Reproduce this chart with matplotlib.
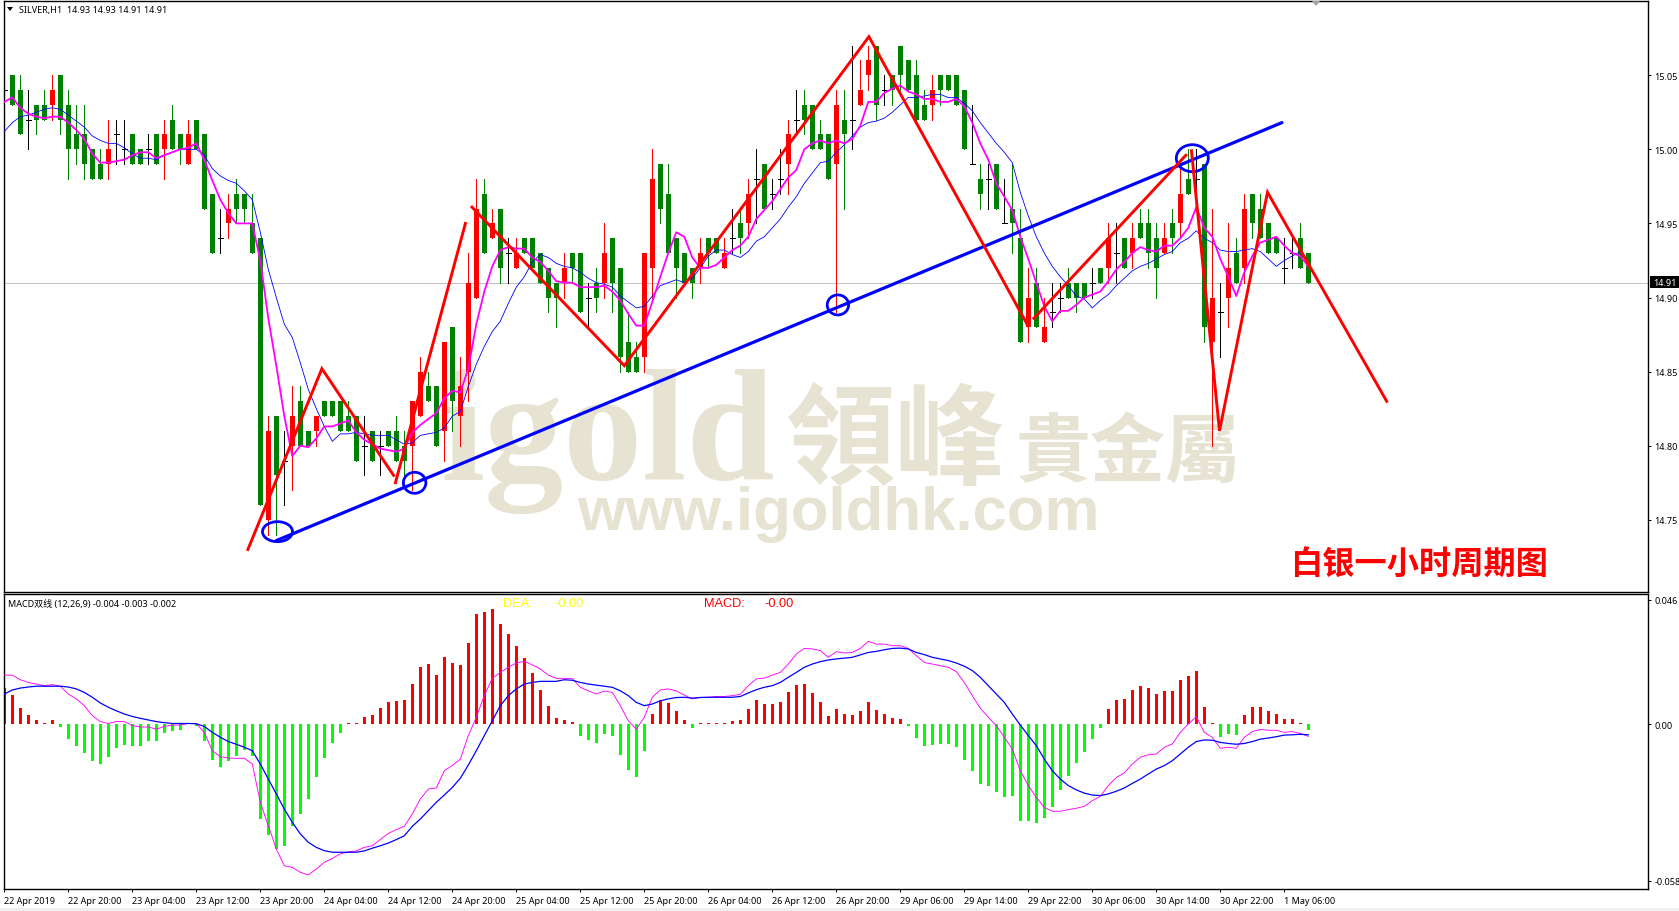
import numpy as np
import matplotlib
matplotlib.use('Agg')
import matplotlib.pyplot as plt
from matplotlib.patches import Ellipse, Rectangle, Polygon

plt.rcParams['font.family'] = ['Noto Sans', 'Noto Sans CJK SC']

# candles (bar by bar, SILVER H1)
opens = [15.04, 15.05, 15.04, 15.02, 15.03, 15.03, 15.03, 15.05, 15.03, 15.01,
         15.01, 15.00, 14.99, 14.99, 15.01, 15.00, 15.01, 15.00, 15.00, 15.01,
         15.00, 15.02, 15.01, 14.99, 15.02, 15.01, 14.97, 14.94, 14.95, 14.97,
         14.97, 14.95, 14.94, 14.75, 14.82, 14.79, 14.80, 14.83, 14.81, 14.81,
         14.83, 14.83, 14.83, 14.82, 14.82, 14.80, 14.81, 14.80, 14.81, 14.81,
         14.80, 14.80, 14.82, 14.84, 14.84, 14.81, 14.88, 14.82, 14.85, 14.90,
         14.97, 14.94, 14.96, 14.93, 14.92, 14.94, 14.94, 14.93, 14.92, 14.91,
         14.91, 14.93, 14.93, 14.90, 14.91, 14.91, 14.94, 14.92, 14.87, 14.86,
         14.86, 14.92, 14.99, 14.97, 14.94, 14.93, 14.92, 14.92, 14.94, 14.94,
         14.92, 14.94, 14.95, 14.95, 14.98, 14.99, 14.97, 14.98, 14.99, 15.02,
         15.03, 15.03, 15.01, 15.01, 14.99, 15.02, 15.02, 15.03, 15.05, 15.07,
         15.04, 15.05, 15.07, 15.06, 15.05, 15.03, 15.03, 15.05, 15.05, 15.05,
         15.04, 14.99, 14.98, 14.98, 14.99, 14.95, 14.96, 14.94, 14.88, 14.91,
         14.87, 14.89, 14.90, 14.91, 14.91, 14.91, 14.91, 14.92, 14.92, 14.93,
         14.94, 14.93, 14.95, 14.95, 14.94, 14.93, 14.95, 14.95, 14.98, 14.98,
         14.99, 14.87, 14.89, 14.90, 14.93, 14.92, 14.97, 14.96, 14.95, 14.94,
         14.92, 14.93, 14.94, 14.93]
highs = [15.05, 15.05, 15.05, 15.04, 15.03, 15.04, 15.05, 15.05, 15.04, 15.03,
         15.03, 15.00, 15.00, 15.02, 15.02, 15.02, 15.01, 15.00, 15.01, 15.01,
         15.02, 15.03, 15.01, 15.02, 15.02, 15.01, 14.97, 14.96, 14.97, 14.98,
         14.97, 14.97, 14.94, 14.82, 14.82, 14.81, 14.84, 14.84, 14.81, 14.82,
         14.83, 14.83, 14.83, 14.83, 14.82, 14.82, 14.81, 14.81, 14.81, 14.82,
         14.81, 14.83, 14.86, 14.85, 14.84, 14.87, 14.88, 14.86, 14.93, 14.98,
         14.98, 14.96, 14.96, 14.94, 14.94, 14.94, 14.94, 14.93, 14.92, 14.91,
         14.93, 14.93, 14.93, 14.91, 14.92, 14.95, 14.94, 14.92, 14.89, 14.87,
         14.93, 15.00, 14.99, 14.99, 14.94, 14.93, 14.92, 14.94, 14.94, 14.94,
         14.94, 14.96, 14.96, 14.98, 15.00, 14.99, 14.98, 15.00, 15.02, 15.04,
         15.04, 15.03, 15.02, 15.01, 15.04, 15.04, 15.07, 15.06, 15.07, 15.07,
         15.05, 15.05, 15.07, 15.06, 15.06, 15.04, 15.05, 15.05, 15.05, 15.05,
         15.04, 15.03, 14.99, 14.99, 14.99, 14.98, 14.99, 14.96, 14.92, 14.92,
         14.90, 14.91, 14.91, 14.92, 14.91, 14.91, 14.92, 14.92, 14.95, 14.95,
         14.94, 14.95, 14.96, 14.96, 14.95, 14.95, 14.96, 14.99, 15.00, 15.00,
         14.99, 14.96, 14.91, 14.95, 14.94, 14.97, 14.97, 14.97, 14.95, 14.94,
         14.94, 14.94, 14.95, 14.93]
lows = [15.03, 15.03, 15.01, 15.00, 15.01, 15.02, 15.02, 15.01, 14.98, 14.99,
        14.98, 14.98, 14.98, 14.98, 14.99, 14.99, 14.99, 14.99, 14.99, 14.99,
        14.98, 15.00, 14.99, 14.99, 15.00, 14.96, 14.93, 14.93, 14.94, 14.95,
        14.95, 14.93, 14.76, 14.74, 14.74, 14.76, 14.77, 14.80, 14.80, 14.80,
        14.82, 14.82, 14.81, 14.81, 14.79, 14.78, 14.79, 14.78, 14.80, 14.79,
        14.78, 14.77, 14.82, 14.83, 14.80, 14.79, 14.81, 14.80, 14.83, 14.90,
        14.93, 14.94, 14.91, 14.91, 14.92, 14.93, 14.92, 14.91, 14.89, 14.88,
        14.90, 14.91, 14.89, 14.88, 14.89, 14.90, 14.89, 14.85, 14.85, 14.85,
        14.85, 14.90, 14.95, 14.93, 14.90, 14.91, 14.90, 14.91, 14.92, 14.93,
        14.92, 14.93, 14.93, 14.94, 14.95, 14.96, 14.96, 14.97, 14.97, 15.01,
        15.01, 15.00, 15.00, 14.98, 14.89, 14.96, 15.00, 15.03, 15.04, 15.02,
        15.03, 15.03, 15.04, 15.04, 15.02, 15.02, 15.02, 15.03, 15.04, 15.03,
        15.00, 14.99, 14.96, 14.96, 14.96, 14.95, 14.93, 14.87, 14.87, 14.88,
        14.87, 14.88, 14.89, 14.90, 14.89, 14.90, 14.90, 14.91, 14.91, 14.91,
        14.92, 14.92, 14.94, 14.92, 14.90, 14.93, 14.93, 14.94, 14.97, 14.96,
        14.87, 14.80, 14.86, 14.88, 14.91, 14.91, 14.94, 14.94, 14.93, 14.93,
        14.91, 14.92, 14.92, 14.91]
closes = [15.04, 15.03, 15.01, 15.02, 15.02, 15.02, 15.04, 15.02, 15.00, 15.00,
          14.99, 14.98, 14.98, 15.00, 15.01, 15.00, 14.99, 14.99, 15.00, 14.99,
          15.01, 15.00, 15.00, 15.01, 15.00, 14.96, 14.93, 14.94, 14.96, 14.96,
          14.96, 14.93, 14.76, 14.81, 14.78, 14.79, 14.82, 14.80, 14.80, 14.82,
          14.82, 14.82, 14.81, 14.81, 14.79, 14.80, 14.79, 14.80, 14.80, 14.79,
          14.79, 14.83, 14.85, 14.83, 14.80, 14.87, 14.83, 14.84, 14.91, 14.96,
          14.93, 14.95, 14.92, 14.93, 14.93, 14.93, 14.92, 14.91, 14.90, 14.90,
          14.92, 14.92, 14.89, 14.90, 14.90, 14.93, 14.91, 14.86, 14.85, 14.85,
          14.93, 14.98, 14.96, 14.93, 14.92, 14.91, 14.91, 14.93, 14.93, 14.93,
          14.93, 14.94, 14.94, 14.97, 14.98, 14.96, 14.97, 14.98, 15.01, 15.02,
          15.02, 15.00, 15.00, 14.98, 15.03, 15.01, 15.02, 15.04, 15.06, 15.03,
          15.04, 15.04, 15.05, 15.04, 15.02, 15.02, 15.04, 15.04, 15.04, 15.03,
          15.00, 14.99, 14.97, 14.98, 14.96, 14.95, 14.95, 14.87, 14.90, 14.88,
          14.88, 14.89, 14.90, 14.90, 14.90, 14.90, 14.91, 14.91, 14.94, 14.93,
          14.92, 14.94, 14.94, 14.93, 14.92, 14.94, 14.94, 14.97, 14.97, 14.98,
          14.88, 14.90, 14.89, 14.92, 14.91, 14.96, 14.95, 14.94, 14.93, 14.93,
          14.92, 14.93, 14.92, 14.91]

# moving averages on the price window
ma_fast = [15.032, 15.035, 15.028, 15.024, 15.022, 15.021, 15.022, 15.022, 15.018, 15.013,
           15.007, 14.997, 14.991, 14.991, 14.992, 14.993, 14.996, 14.998, 14.998, 14.994,
           14.996, 14.998, 15.000, 15.001, 15.004, 14.993, 14.979, 14.966, 14.957, 14.950,
           14.950, 14.950, 14.925, 14.886, 14.854, 14.820, 14.793, 14.800, 14.799, 14.805,
           14.813, 14.813, 14.815, 14.817, 14.809, 14.804, 14.801, 14.798, 14.797, 14.796,
           14.798, 14.809, 14.814, 14.818, 14.822, 14.832, 14.837, 14.836, 14.852, 14.882,
           14.904, 14.921, 14.932, 14.934, 14.933, 14.933, 14.927, 14.924, 14.918, 14.911,
           14.910, 14.910, 14.907, 14.907, 14.907, 14.908, 14.904, 14.898, 14.889, 14.881,
           14.881, 14.897, 14.914, 14.930, 14.944, 14.941, 14.927, 14.920, 14.920, 14.922,
           14.927, 14.932, 14.935, 14.941, 14.953, 14.959, 14.965, 14.973, 14.981, 14.986,
           15.000, 15.004, 15.006, 15.004, 15.006, 15.004, 15.007, 15.016, 15.032, 15.032,
           15.038, 15.041, 15.043, 15.039, 15.037, 15.034, 15.034, 15.032, 15.032, 15.034,
           15.029, 15.018, 15.004, 14.993, 14.977, 14.968, 14.959, 14.941, 14.926, 14.910,
           14.894, 14.884, 14.891, 14.891, 14.895, 14.900, 14.902, 14.904, 14.911, 14.919,
           14.924, 14.930, 14.934, 14.932, 14.931, 14.935, 14.935, 14.940, 14.947, 14.961,
           14.947, 14.941, 14.926, 14.914, 14.901, 14.917, 14.928, 14.937, 14.939, 14.941,
           14.935, 14.930, 14.928, 14.921]
ma_slow = [15.012, 15.018, 15.022, 15.023, 15.025, 15.027, 15.028, 15.027, 15.023, 15.019,
           15.015, 15.009, 15.006, 15.004, 15.004, 15.001, 14.997, 14.994, 14.994, 14.993,
           14.996, 14.998, 15.000, 15.000, 15.000, 14.996, 14.987, 14.982, 14.979, 14.977,
           14.972, 14.966, 14.944, 14.919, 14.900, 14.882, 14.873, 14.856, 14.838, 14.825,
           14.813, 14.803, 14.808, 14.808, 14.809, 14.808, 14.807, 14.807, 14.807, 14.804,
           14.801, 14.802, 14.807, 14.808, 14.809, 14.812, 14.820, 14.823, 14.840, 14.855,
           14.867, 14.877, 14.884, 14.896, 14.907, 14.914, 14.924, 14.929, 14.927, 14.923,
           14.921, 14.920, 14.917, 14.913, 14.910, 14.909, 14.907, 14.901, 14.897, 14.893,
           14.894, 14.901, 14.908, 14.910, 14.912, 14.910, 14.913, 14.920, 14.928, 14.932,
           14.932, 14.929, 14.927, 14.931, 14.938, 14.941, 14.947, 14.953, 14.961, 14.968,
           14.977, 14.984, 14.991, 14.992, 14.998, 15.003, 15.009, 15.015, 15.018, 15.019,
           15.021, 15.025, 15.030, 15.035, 15.035, 15.036, 15.037, 15.037, 15.035, 15.035,
           15.031, 15.026, 15.018, 15.011, 15.004, 14.998, 14.991, 14.971, 14.955, 14.941,
           14.930, 14.921, 14.914, 14.908, 14.901, 14.899, 14.893, 14.898, 14.902, 14.908,
           14.913, 14.918, 14.921, 14.923, 14.926, 14.929, 14.931, 14.937, 14.940, 14.945,
           14.940, 14.937, 14.932, 14.931, 14.931, 14.932, 14.933, 14.931, 14.926, 14.921,
           14.925, 14.928, 14.931, 14.923]

# MACD window, values in thousandths
macd_hist = [13.3, 10.7, 5.9, 3.3, 1.5, 0.2, 1.5, -1.1, -5.6, -8.1,
             -10.7, -13.7, -14.8, -12.2, -8.9, -7.8, -8.1, -8.1, -6.3, -6.3,
             -3.3, -2.6, -2.2, 0.2, -0.9, -6.3, -13.3, -15.9, -13.7, -11.9,
             -9.6, -11.9, -35.2, -41.1, -46.3, -45.2, -37.8, -33.3, -27.8, -19.6,
             -12.6, -7.0, -3.3, 0.2, 0.2, 2.6, 3.3, 5.9, 8.1, 8.5,
             8.9, 14.8, 21.1, 22.2, 18.1, 24.9, 22.7, 21.9, 30.0, 40.7,
             41.5, 42.6, 37.0, 33.3, 28.9, 24.4, 18.9, 12.6, 6.7, 2.2,
             1.5, 0.7, -4.4, -5.9, -7.0, -3.7, -4.4, -11.5, -17.0, -19.6,
             -10.0, 3.7, 8.9, 7.8, 4.8, 1.5, -1.5, 0.2, 0.2, 0.2,
             0.2, 1.1, 1.5, 5.6, 8.9, 7.4, 7.4, 8.1, 11.9, 14.4,
             14.8, 11.5, 8.1, 3.0, 5.6, 3.7, 3.3, 4.8, 8.1, 5.2,
             3.7, 2.2, 1.9, -0.7, -5.2, -8.1, -7.8, -7.4, -7.4, -8.5,
             -13.3, -17.4, -22.2, -23.0, -25.2, -27.0, -26.7, -35.9, -35.9, -36.7,
             -34.8, -30.7, -24.4, -19.3, -14.4, -10.4, -5.6, -1.5, 5.6, 8.9,
             9.3, 12.6, 14.1, 13.3, 11.1, 12.2, 12.2, 16.3, 17.8, 19.6,
             6.3, 0.4, -4.8, -3.7, -4.1, 3.3, 6.3, 6.3, 4.8, 3.7,
             1.9, 1.9, 0.4, -2.2]
macd_line = [18.1, 18.1, 16.4, 15.4, 14.8, 14.2, 14.6, 14.0, 11.1, 9.3,
             6.8, 3.1, 0.9, 0.2, 0.9, 0.9, -0.6, -1.1, -1.1, -1.9,
             -0.9, -0.4, -0.4, 0.2, 0.2, -3.1, -9.9, -12.1, -12.6, -12.7,
             -12.7, -14.8, -29.0, -37.7, -46.3, -52.5, -53.1, -54.9, -55.9, -53.7,
             -51.2, -49.8, -48.1, -47.3, -47.0, -45.7, -45.1, -42.8, -40.5, -39.1,
             -37.9, -33.3, -27.8, -24.1, -23.7, -17.3, -15.4, -13.0, -4.3, 2.5,
             10.5, 16.9, 19.1, 21.0, 22.6, 23.2, 21.9, 20.4, 18.1, 16.9,
             16.9, 16.9, 13.6, 12.3, 11.1, 12.2, 11.7, 6.8, 1.2, -1.9,
             2.5, 9.9, 12.6, 13.0, 12.3, 10.7, 9.3, 9.9, 9.9, 10.2,
             10.2, 10.5, 11.0, 14.2, 16.7, 17.0, 18.1, 19.1, 22.2, 25.9,
             28.0, 27.8, 27.2, 24.7, 26.8, 26.3, 26.5, 28.0, 30.6, 29.6,
             29.6, 29.0, 29.0, 28.0, 25.3, 22.8, 22.2, 21.6, 21.0, 19.4,
             15.4, 10.5, 5.8, 2.5, -0.6, -4.9, -9.3, -17.3, -22.8, -27.2,
             -30.9, -32.3, -32.3, -31.7, -31.2, -30.5, -28.4, -26.8, -22.8, -19.8,
             -18.1, -14.8, -12.3, -11.4, -11.1, -8.6, -7.4, -3.1, 0.0, 2.7,
             -3.1, -4.9, -9.0, -8.6, -9.0, -4.9, -2.8, -2.0, -2.3, -2.3,
             -3.1, -2.8, -3.5, -4.6]
signal_line = [11.1, 12.6, 13.3, 13.7, 14.0, 14.0, 14.0, 14.0, 13.7, 13.0,
               11.7, 9.9, 7.8, 6.2, 4.9, 3.7, 2.8, 2.1, 1.5, 0.9,
               0.5, 0.2, 0.2, 0.2, 0.1, -0.9, -3.1, -4.9, -6.5, -7.5,
               -8.6, -9.9, -14.8, -20.4, -25.9, -31.5, -36.4, -40.7, -43.8, -45.7,
               -46.9, -47.5, -47.5, -47.5, -47.5, -47.0, -46.0, -45.1, -44.1, -42.8,
               -41.4, -37.9, -35.2, -32.1, -29.0, -26.3, -23.5, -20.1, -15.2, -9.9,
               -4.3, 1.2, 6.8, 10.5, 13.0, 14.8, 15.4, 15.8, 15.8, 15.8,
               16.4, 16.2, 15.4, 14.8, 14.4, 14.0, 13.6, 12.3, 10.5, 8.0,
               6.8, 7.4, 8.6, 9.3, 9.8, 9.9, 9.6, 9.8, 9.9, 9.9,
               9.9, 9.9, 10.2, 11.5, 12.7, 13.6, 14.2, 15.4, 17.3, 19.1,
               21.0, 22.2, 23.1, 23.7, 24.1, 24.4, 24.7, 25.6, 26.5, 26.9,
               27.5, 28.0, 28.1, 27.8, 26.5, 25.7, 24.7, 24.1, 23.5, 22.6,
               21.4, 19.8, 17.3, 14.2, 11.1, 8.0, 3.7, -0.4, -4.3, -8.0,
               -13.0, -17.3, -20.4, -22.8, -24.4, -25.6, -26.3, -26.5, -25.9, -24.9,
               -23.7, -22.0, -20.4, -18.5, -16.7, -15.4, -13.6, -11.1, -8.6, -6.5,
               -5.9, -6.0, -6.8, -7.2, -7.5, -7.2, -6.5, -5.6, -5.2, -4.7,
               -4.1, -4.0, -3.8, -4.0]

# hand drawn lines on the chart (bar index, price)
red_x = [[30.45, 39.7, 48.66], [48.89, 57.64], [58.46, 77.5, 108.08, 127.95],
         [128.7, 147.7], [148.4, 151.9, 157.9, 172.8]]
red_y = [[14.730, 14.852, 14.780], [14.775, 14.950], [14.961, 14.854, 15.076, 14.881],
         [14.886, 14.996], [14.999, 14.810, 14.971, 14.830]]
trend_x = [34.01, 159.7]
trend_y = [14.736, 15.018]
circle_x = [34.15, 51.29, 104.2, 148.5]
circle_y = [14.742, 14.775, 14.895, 14.994]
circle_w = [30, 22.5, 21.4, 32]
circle_h = [20, 21, 20, 27]

price_ticks = [14.75, 14.80, 14.85, 14.90, 14.95, 15.00, 15.05]
macd_ticks = [-0.058, 0.0, 0.046]
macd_tick_labels = ['-0.058', '0.00', '0.046']
time_ticks = list(range(0, 161, 8))
time_labels = ['22 Apr 2019', '22 Apr 20:00', '23 Apr 04:00', '23 Apr 12:00', '23 Apr 20:00',
               '24 Apr 04:00', '24 Apr 12:00', '24 Apr 20:00', '25 Apr 04:00', '25 Apr 12:00',
               '25 Apr 20:00', '26 Apr 04:00', '26 Apr 12:00', '26 Apr 20:00', '29 Apr 06:00',
               '29 Apr 14:00', '29 Apr 22:00', '30 Apr 06:00', '30 Apr 14:00', '30 Apr 22:00',
               '1 May 06:00']

W, H = 1679, 912
BAR_PX = 8.0
PRICE_PX = 1482.0
LEFT, RIGHT = 3.5, 1647.7
FS = 6.5


def axes_box(top, bottom):
    return [LEFT / W, 1 - bottom / H, (RIGHT - LEFT) / W, (bottom - top) / H]


def fx(px):
    return px / W


def fy(py):
    return 1 - py / H


fig = plt.figure(figsize=(W / 100, H / 100), dpi=100, facecolor='white')
ax = fig.add_axes(axes_box(1.5, 593))
ax2 = fig.add_axes(axes_box(595.3, 890.3))

xlim = ((LEFT - 4.3) / BAR_PX, (RIGHT - 4.3) / BAR_PX)
for a in (ax, ax2):
    a.set_xlim(xlim)
    a.yaxis.tick_right()
    for s in a.spines.values():
        s.set_linewidth(1.0)
ax.set_ylim(14.7013, 15.1004)
ax2.set_ylim(-0.06122, 0.04804)

# watermark under the candles
wm = '#E7E3D3'
ax.text(fx(440), fy(479), 'igold', transform=fig.transFigure, color=wm, zorder=0, fontsize=114,
        family='Liberation Serif', weight='bold', ha='left', va='baseline')
ax.text(fx(786), fy(476), '領峰', transform=fig.transFigure, color=wm, zorder=0, fontsize=79,
        family='Noto Sans CJK TC', weight='bold', ha='left', va='baseline')
ax.text(fx(1016), fy(476), '貴金屬', transform=fig.transFigure, color=wm, zorder=0, fontsize=54,
        family='Noto Sans CJK TC', weight='bold', ha='left', va='baseline')
ax.text(fx(577), fy(530), 'www.igoldhk.com', transform=fig.transFigure, color=wm, zorder=0, fontsize=44.5,
        family='Liberation Sans', weight='bold', ha='left', va='baseline')

ax.axhline(closes[-1], color='#C0C0C0', lw=0.7, zorder=1)

# candles: red up, green down, black when open == close
x = np.arange(len(closes))
o = np.array(opens)
c = np.array(closes)
up = c > o
down = c < o
doji = c == o
ax.vlines(x[up], np.array(lows)[up], np.array(highs)[up], color='#FF0000', lw=0.6, zorder=2, antialiased=False)
ax.vlines(x[down], np.array(lows)[down], np.array(highs)[down], color='#008000', lw=0.6, zorder=2, antialiased=False)
ax.vlines(x[doji], np.array(lows)[doji], np.array(highs)[doji], color='black', lw=0.6, zorder=2, antialiased=False)
ax.hlines(c[doji], x[doji] - 0.31, x[doji] + 0.31, color='black', lw=0.6, zorder=2, antialiased=False)
ax.bar(x[up], (c - o)[up], bottom=o[up], width=0.62, color='#FF0000', lw=0, zorder=2.1, antialiased=False)
ax.bar(x[down], (c - o)[down], bottom=o[down], width=0.62, color='#008000', lw=0, zorder=2.1, antialiased=False)

ax.plot(np.arange(len(ma_slow)), ma_slow, color='#0000FF', lw=0.6, zorder=3)
ax.plot(np.arange(len(ma_fast)), ma_fast, color='#FF00FF', lw=1.3, zorder=3.1)

ax.plot(trend_x, trend_y, color='#0000FF', lw=2.3, zorder=4, solid_capstyle='round')
for cx, cy, cw, ch in zip(circle_x, circle_y, circle_w, circle_h):
    ax.add_patch(Ellipse((cx, cy), cw / BAR_PX, ch / PRICE_PX, fill=False, ec='#0000FF', lw=2.0, zorder=4))
for rx, ry in zip(red_x, red_y):
    ax.plot(rx, ry, color='#FF0000', lw=2.1, zorder=4.1, solid_joinstyle='miter')

ax.set_yticks(price_ticks, [f'{v:.2f}' for v in price_ticks])
ax.set_xticks([])
ax.tick_params(axis='y', length=2.2, width=0.7, labelsize=FS, pad=2.5)

ax.text(fx(19), fy(10), 'SILVER,H1  14.93 14.93 14.91 14.91', transform=fig.transFigure,
        fontsize=FS, color='black', va='center', ha='left')
fig.add_artist(Polygon([(fx(7), fy(8)), (fx(13), fy(8)), (fx(10), fy(12))], transform=fig.transFigure,
                       fc='black', ec='none'))
fig.add_artist(Polygon([(fx(1312), fy(2)), (fx(1320), fy(2)), (fx(1316), fy(7))], transform=fig.transFigure,
                       fc='#A0A0A0', ec='none'))

# current price flag on the axis
fig.add_artist(Rectangle((fx(1650), fy(289)), 29 / W, 12 / H, transform=fig.transFigure, fc='black', ec='none'))
fig.text(fx(1653), fy(283.3), '14.91', color='white', fontsize=FS, va='center', ha='left')

fig.text(fx(1290), fy(564), '白银一小时周期图', color='#FF0000', fontsize=23.2,
         family='Noto Sans CJK SC', weight='bold', ha='left', va='center')

# MACD window
h = np.array(macd_hist) / 1000
xh = np.arange(len(h))
ax2.bar(xh[h > 0], h[h > 0], width=0.4, color='#FF0000', lw=0, antialiased=False, zorder=2)
ax2.bar(xh[h < 0], h[h < 0], width=0.4, color='#00FF00', lw=0, antialiased=False, zorder=2)
ax2.plot(np.arange(len(macd_line)), np.array(macd_line) / 1000, color='#FF00FF', lw=0.65, zorder=3)
ax2.plot(np.arange(len(signal_line)), np.array(signal_line) / 1000, color='#0000FF', lw=0.9, zorder=3.1)

ax2.set_yticks(macd_ticks, macd_tick_labels)
ax2.set_xticks(time_ticks, time_labels, ha='left')
ax2.tick_params(axis='y', length=2.2, width=0.7, labelsize=FS, pad=2.5)
ax2.tick_params(axis='x', length=2.2, width=0.7, labelsize=FS, pad=2.5)

fig.text(fx(8), fy(605), 'MACD双线 (12,26,9) -0.004 -0.003 -0.002', fontsize=FS, color='black',
         va='center', ha='left')
fig.text(fx(503), fy(604.5), 'DEA:', color='#FFFF00', fontsize=9.2, family='Liberation Sans', va='center')
fig.text(fx(554), fy(604.5), '-0.00', color='#FFFF00', fontsize=9.2, family='Liberation Sans', va='center')
fig.text(fx(704), fy(604.5), 'MACD:', color='#FF0000', fontsize=9.2, family='Liberation Sans', va='center')
fig.text(fx(764), fy(604.5), '-0.00', color='#FF0000', fontsize=9.2, family='Liberation Sans', va='center')

# strip along the bottom of the window
fig.add_artist(Rectangle((0, 0), 1, 3 / H, transform=fig.transFigure, fc='#F0F0F0', ec='none'))

fig.savefig('out.png', dpi=100)
